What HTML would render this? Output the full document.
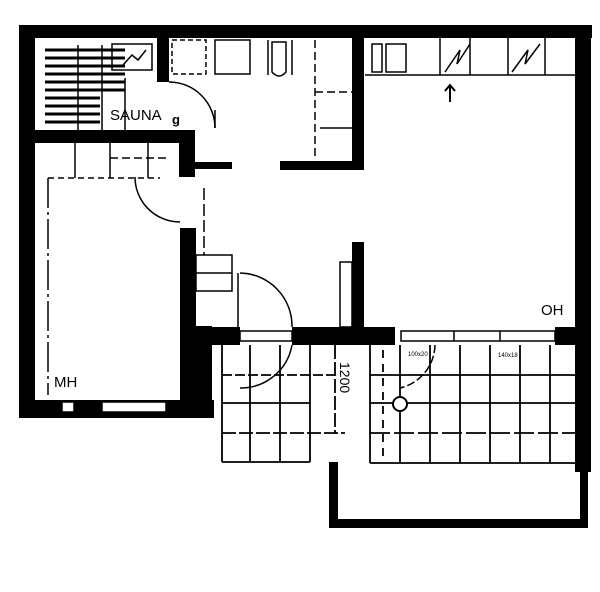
<!DOCTYPE html>
<html><head><meta charset="utf-8"><style>
html,body{margin:0;padding:0;background:#fff;}
svg{display:block}
text{font-family:"Liberation Sans",sans-serif;fill:#000}
</style></head><body>
<svg width="600" height="592" viewBox="0 0 600 592" xmlns="http://www.w3.org/2000/svg">
<rect width="600" height="592" fill="#fff"/>
<g fill="#000">
<!-- outer walls -->
<rect x="19" y="25" width="573" height="13"/>
<rect x="19" y="25" width="16" height="393"/>
<rect x="19" y="400" width="195" height="18"/>
<rect x="575" y="25" width="16" height="447"/>
<!-- sauna/MH wall -->
<rect x="35" y="130" width="160" height="13"/>
<rect x="157" y="38" width="12" height="44"/>
<rect x="179" y="130" width="16" height="47"/>
<rect x="195" y="162" width="37" height="7"/>
<rect x="180" y="228" width="16" height="100"/>
<rect x="180" y="326" width="32" height="90"/>
<!-- bathroom -->
<rect x="280" y="161" width="83" height="9"/>
<rect x="352" y="38" width="12" height="132"/>
<rect x="352" y="242" width="12" height="86"/>
<!-- south wall -->
<rect x="180" y="327" width="60" height="18"/>
<rect x="292" y="327" width="103" height="18"/>
<rect x="555" y="327" width="36" height="18"/>
<!-- MH bottom windows -->
<!-- balcony rail -->
<rect x="329" y="462" width="9" height="66"/>
<rect x="329" y="519" width="259" height="9"/>
<rect x="580" y="470" width="8" height="58"/>
</g>
<g fill="#fff" stroke="#000" stroke-width="1.5">
<rect x="240" y="331" width="52" height="10"/>
<rect x="401" y="331" width="154" height="10"/>
<rect x="62" y="402" width="12" height="10"/>
<rect x="102" y="402" width="64" height="10"/>
</g>
<g stroke="#000" stroke-width="1.5" fill="none">
<line x1="454" y1="331" x2="454" y2="341"/><line x1="500" y1="331" x2="500" y2="341"/>
<!-- sauna benches -->
<g stroke-width="3">
<line x1="45" y1="50" x2="125" y2="50"/><line x1="45" y1="58" x2="125" y2="58"/><line x1="45" y1="66" x2="125" y2="66"/>
<line x1="45" y1="74" x2="125" y2="74"/><line x1="45" y1="82" x2="125" y2="82"/><line x1="45" y1="90" x2="125" y2="90"/>
<line x1="45" y1="98" x2="100" y2="98"/><line x1="45" y1="106" x2="100" y2="106"/><line x1="45" y1="114" x2="100" y2="114"/><line x1="45" y1="122" x2="100" y2="122"/>
</g>
<line x1="78" y1="45" x2="78" y2="130"/><line x1="102" y1="45" x2="102" y2="130"/><line x1="125" y1="78" x2="125" y2="130"/>
<rect x="112" y="44" width="40" height="26"/>
<polyline points="123,65 132,55 138,60 146,50"/>
<!-- cabinets top -->
<rect x="172" y="40" width="34" height="34" stroke-dasharray="5,3"/>
<rect x="215" y="40" width="35" height="34"/>
<path d="M272,42 h14 v30 q-7,8 -14,0 z"/>
<line x1="268" y1="40" x2="268" y2="75"/><line x1="292" y1="40" x2="292" y2="75"/>
<line x1="315" y1="40" x2="315" y2="160" stroke-dasharray="8,4"/>
<line x1="315" y1="92" x2="352" y2="92" stroke-dasharray="8,4"/>
<line x1="320" y1="128" x2="352" y2="128"/>
<line x1="365" y1="75" x2="575" y2="75"/>
<rect x="372" y="44" width="10" height="28"/><rect x="386" y="44" width="20" height="28"/>
<line x1="440" y1="38" x2="440" y2="75"/><line x1="470" y1="38" x2="470" y2="75"/><line x1="508" y1="38" x2="508" y2="75"/><line x1="545" y1="38" x2="545" y2="75"/>
<polyline points="445,72 460,50 457,64 470,44"/>
<polyline points="512,72 528,50 525,64 540,44"/>
<!-- door arcs -->
<path d="M169,82 A46,46 0 0 1 215,128"/>
<line x1="215" y1="110" x2="215" y2="128"/>
<path d="M135,177 A45,45 0 0 0 180,222"/>
<line x1="204" y1="188" x2="204" y2="255" stroke-dasharray="12,4"/>
<line x1="48" y1="178" x2="48" y2="395" stroke-dasharray="30,4,3,4"/>
<line x1="48" y1="178" x2="160" y2="178" stroke-dasharray="6,4"/>
<line x1="75" y1="143" x2="75" y2="178"/><line x1="110" y1="143" x2="110" y2="178"/><line x1="148" y1="143" x2="148" y2="178"/>
<line x1="110" y1="158" x2="170" y2="158" stroke-dasharray="8,4"/>
<rect x="196" y="255" width="36" height="36"/><line x1="196" y1="273" x2="232" y2="273"/>
<line x1="238" y1="273" x2="238" y2="327"/>
<path d="M240,273 A53,53 0 0 1 292,327"/>
<path d="M292,345 A52,52 0 0 1 240,388"/>
<rect x="340" y="262" width="12" height="65"/>
<path d="M435,345 A45,45 0 0 1 400,388" stroke-dasharray="8,3"/>
<!-- tiles left -->
<g stroke-width="1.8">
<line x1="222" y1="345" x2="222" y2="462"/><line x1="250" y1="345" x2="250" y2="462"/><line x1="280" y1="345" x2="280" y2="462"/><line x1="310" y1="345" x2="310" y2="462"/>
<line x1="222" y1="375" x2="335" y2="375" stroke-dasharray="10,3"/><line x1="222" y1="403" x2="310" y2="403"/><line x1="222" y1="433" x2="345" y2="433" stroke-dasharray="14,3"/><line x1="222" y1="462" x2="310" y2="462"/>
<line x1="335" y1="345" x2="335" y2="433" stroke-dasharray="14,3"/>
<!-- tiles right -->
<line x1="370" y1="345" x2="370" y2="463"/><line x1="400" y1="345" x2="400" y2="463"/><line x1="430" y1="345" x2="430" y2="463"/><line x1="460" y1="345" x2="460" y2="463"/><line x1="490" y1="345" x2="490" y2="463"/><line x1="520" y1="345" x2="520" y2="463"/><line x1="550" y1="345" x2="550" y2="463"/>
<line x1="370" y1="375" x2="575" y2="375"/><line x1="370" y1="403" x2="575" y2="403"/><line x1="370" y1="433" x2="575" y2="433" stroke-dasharray="20,4"/><line x1="370" y1="463" x2="575" y2="463"/>
<line x1="383" y1="350" x2="383" y2="460" stroke-dasharray="8,6"/>
</g>
<circle cx="400" cy="404" r="7" fill="#fff" stroke-width="2"/>
<!-- arrow -->
<line x1="450" y1="85" x2="450" y2="102" stroke-width="2"/>
<polyline points="445,91 450,85 455,91" stroke-width="2"/>
</g>
<text x="110" y="120" font-size="15">SAUNA</text>
<text x="172" y="124" font-size="13" font-weight="bold">g</text>
<text x="54" y="387" font-size="15">MH</text>
<text x="541" y="315" font-size="15">OH</text>
<text x="0" y="0" font-size="14" transform="translate(340,362) rotate(90)">1200</text>
<text x="408" y="356" font-size="6">100x20</text>
<text x="498" y="357" font-size="6">140x18</text>
</svg>
</body></html>
